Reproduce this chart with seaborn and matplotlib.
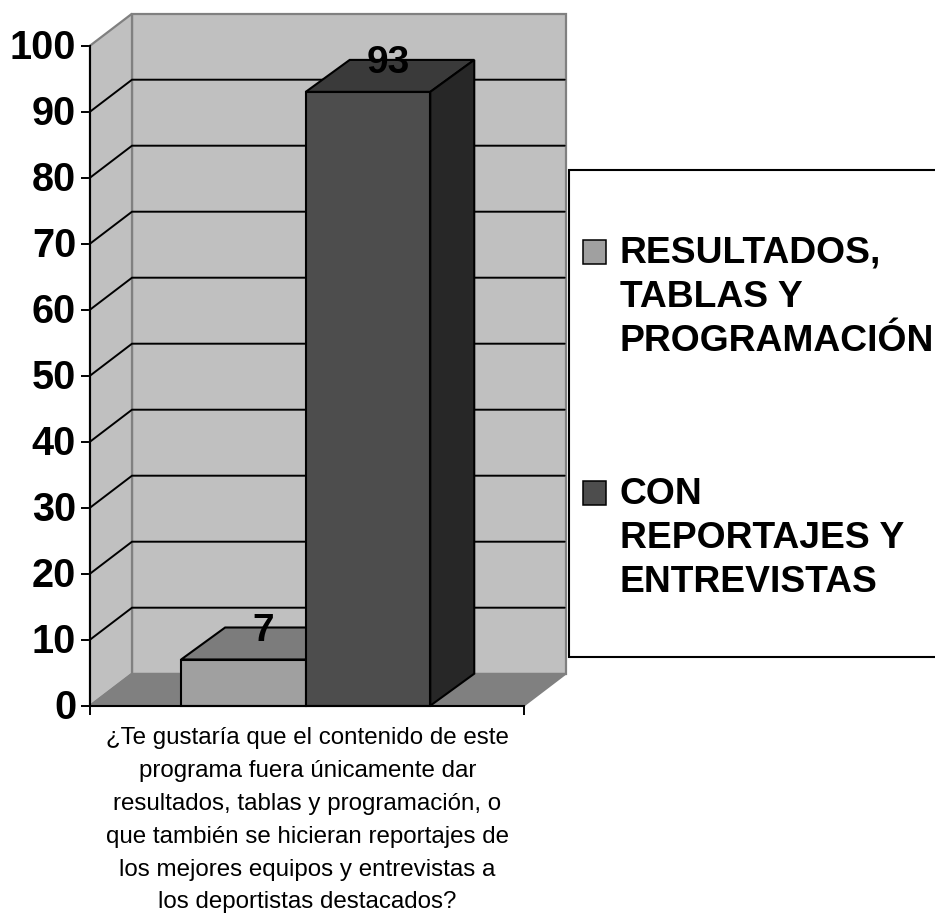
import matplotlib
matplotlib.use("Agg")
import matplotlib.pyplot as plt
from matplotlib.patches import Polygon, Rectangle
from matplotlib.transforms import ScaledTranslation
import pandas as pd
import seaborn as sns

# ---- data ----
question = ("¿Te gustaría que el contenido de este\n"
            "programa fuera únicamente dar\n"
            "resultados, tablas y programación, o\n"
            "que también se hicieran reportajes de\n"
            "los mejores equipos y entrevistas a\n"
            "los deportistas destacados?")
series_names = ["RESULTADOS,\nTABLAS Y\nPROGRAMACIÓN", "CON\nREPORTAJES Y\nENTREVISTAS"]
series_values = [7, 93]
y_ticks = list(range(0, 101, 10))

# ---- styles ----
front_colors = ["#A0A0A0", "#4D4D4D"]
top_colors = ["#7C7C7C", "#3A3A3A"]
side_colors = ["#585858", "#272727"]
WALL = "#C0C0C0"
FLOOR = "#808080"
EDGE_GRAY = "#808080"
W, H = 935, 917
LW_BAR = 1.5
LW_GRID = 1.4

sns.set_theme(style="white")
plt.rcParams["font.family"] = ["Liberation Sans", "DejaVu Sans"]

fig = plt.figure(figsize=(W / 100, H / 100), dpi=100, facecolor="white")
# plot box = the front plane of the 3-D chart, in pixels of the reference
left, right, top, bottom = 90, 524, 45.7, 705.7
ax = fig.add_axes([left / W, 1 - bottom / H, (right - left) / W, (bottom - top) / H])
ax.patch.set_visible(False)

df = pd.DataFrame({"q": [question] * 2, "serie": series_names, "valor": series_values})
sns.barplot(data=df, x="q", y="valor", hue="serie", hue_order=series_names,
            palette=dict(zip(series_names, front_colors)), saturation=1,
            width=0.574, gap=0, edgecolor="black", linewidth=LW_BAR, ax=ax)

xmin, xmax = -0.497, 0.503
ax.set_xlim(xmin, xmax)
ax.set_ylim(0, 100)
ax.set_xlabel("")
ax.set_ylabel("")

# depth of the 3-D box converted to data units
px_x = (xmax - xmin) / (right - left)
px_y = 100 / (bottom - top)
dx, dy = 42 * px_x, 32 * px_y
bdx = 44 * px_x


def poly(pts, fc, ec="none", lw=0, z=1):
    ax.add_patch(Polygon(pts, closed=True, facecolor=fc, edgecolor=ec, linewidth=lw,
                         zorder=z, clip_on=False, joinstyle="miter"))


# walls and floor
poly([(xmin + dx, dy), (xmax + dx, dy), (xmax + dx, 100 + dy), (xmin + dx, 100 + dy)],
     WALL, EDGE_GRAY, 1.6, 0.5)
poly([(xmin, 0), (xmin + dx, dy), (xmin + dx, 100 + dy), (xmin, 100)], WALL, EDGE_GRAY, 1.6, 0.6)
poly([(xmin, 0), (xmax, 0), (xmax + dx, dy), (xmin + dx, dy)], FLOOR, EDGE_GRAY, 1.2, 0.7)

# gridlines on side and back wall
for t in y_ticks[1:-1]:
    ax.plot([xmin, xmin + dx, xmax + dx - 0.003], [t, t + dy, t + dy], color="black",
            lw=LW_GRID, zorder=0.8, clip_on=False, solid_joinstyle="miter")

# bar bodies: front faces come from seaborn, top and side are derived from them
bars = [p for p in ax.patches if isinstance(p, Rectangle) and p.get_height() > 0][:2]
for i, (bar, val) in enumerate(zip(bars, series_values)):
    x0, x1 = bar.get_x(), bar.get_x() + bar.get_width()
    base = 2 + 2 * i
    poly([(x0, val), (x1, val), (x1 + bdx, val + dy), (x0 + bdx, val + dy)],
         top_colors[i], "black", LW_BAR, base)
    poly([(x1, 0), (x1 + bdx, dy), (x1 + bdx, val + dy), (x1, val)],
         side_colors[i], "black", LW_BAR, base)
    bar.set_zorder(base + 1)
    bar.set_clip_on(False)
    ax.text((x0 + x1) / 2 + 0.45 * bdx, val + dy + 0.15, str(val), ha="center", va="center_baseline",
            fontsize=28, fontweight="bold", color="black", zorder=10, clip_on=False)

# axes
for s in ("top", "right"):
    ax.spines[s].set_visible(False)
for s in ("left", "bottom"):
    ax.spines[s].set_color("black")
    ax.spines[s].set_linewidth(1.5)
    ax.spines[s].set_zorder(9)
ax.set_yticks(y_ticks)
ax.tick_params(axis="y", left=True, length=6.5, width=1.4, color="black", pad=3.5,
               labelsize=28.5, labelcolor="black")
up = ScaledTranslation(0, 2 / 72 * 0.72 * 100 / 100, fig.dpi_scale_trans)
for lab in ax.get_yticklabels():
    lab.set_fontweight("bold")
    lab.set_transform(lab.get_transform() + up)
ax.tick_params(axis="x", which="major", bottom=False, pad=9.4, labelsize=17.4, labelcolor="black")
ax.set_xticks([xmin, xmax], minor=True)
ax.tick_params(axis="x", which="minor", bottom=True, length=6.5, width=1.4, color="black")
rightward = ScaledTranslation(0.015, 0, fig.dpi_scale_trans)
for lab in ax.get_xticklabels():
    lab.set_linespacing(1.64)
    lab.set_ha("center")
    lab.set_transform(lab.get_transform() + rightward)

# legend box: only its left, top and bottom edges are inside the picture
box_l, box_t, box_b = 569, 170, 657
fig.add_artist(Rectangle((box_l / W, 1 - box_b / H), (W + 20 - box_l) / W, (box_b - box_t) / H,
                         transform=fig.transFigure, facecolor="white", edgecolor="black",
                         linewidth=1.5, zorder=5))
handles, labels = ax.get_legend_handles_labels()
leg = fig.legend(handles, labels, loc="upper left", bbox_to_anchor=(583 / W, 1 - 236 / H),
                 bbox_transform=fig.transFigure, frameon=False, borderpad=0,
                 borderaxespad=0, handlelength=0.62, handleheight=0.62, handletextpad=0.37,
                 labelspacing=3.18, prop={"weight": "bold", "size": 26.8})
leg.set_zorder(6)
for txt in leg.get_texts():
    txt.set_linespacing(1.33)
    txt.set_color("black")
# the swatches sit beside the first line of each entry
for h in leg.legend_handles:
    h.set_y(h.get_y() + 33)
    h.set_linewidth(1.1)
if ax.get_legend() is not None:
    ax.get_legend().remove()

fig.savefig("out.png", dpi=100)
